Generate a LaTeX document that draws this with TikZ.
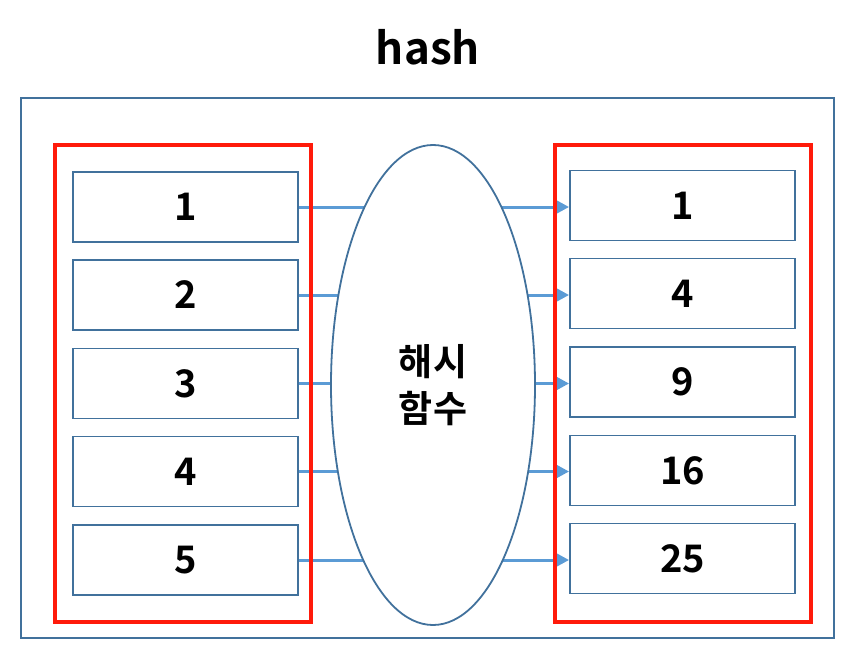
\documentclass[tikz,border=0pt]{standalone}
\usepackage{fontspec}
\setmainfont{Noto Sans CJK KR}[BoldFont={Noto Sans CJK KR Bold}]
\usetikzlibrary{shapes.geometric,arrows.meta}
\definecolor{boxblue}{HTML}{41719C}
\definecolor{arrblue}{HTML}{5B9BD5}
\definecolor{redbox}{HTML}{FF1A0A}
\tikzset{
  itembox/.style={draw=boxblue, line width=1.8pt, minimum width=225pt, minimum height=70pt, inner sep=0pt, font=\fontsize{38}{40}\selectfont\bfseries},
  groupbox/.style={draw=redbox, line width=4pt},
  maparrow/.style={draw=arrblue, line width=3pt, -{Triangle[length=12pt,width=12pt]}},
}
\begin{document}
\begin{tikzpicture}[x=1pt,y=-1pt]
\useasboundingbox (0,0) rectangle (865,653);
\node[font=\fontsize{44}{46}\selectfont\bfseries] (title) at (428,47) {hash};
\draw[boxblue, line width=1.8pt] (21,98) rectangle (834,638);
% left items
\node[itembox] (l1) at (185.5,207) {1};
\node[itembox] (l2) at (185.5,295) {2};
\node[itembox] (l3) at (185.5,383.5) {3};
\node[itembox] (l4) at (185.5,471.5) {4};
\node[itembox] (l5) at (185.5,560) {5};
% right items
\node[itembox] (r1) at (682.5,205.5) {1};
\node[itembox] (r2) at (682.5,293.5) {4};
\node[itembox] (r3) at (682.5,382) {9};
\node[itembox] (r4) at (682.5,470.5) {16};
\node[itembox] (r5) at (682.5,558.5) {25};
% arrows
\draw[maparrow] (l1.east) -- (l1.east -| r1.west);
\draw[maparrow] (l2.east) -- (l2.east -| r2.west);
\draw[maparrow] (l3.east) -- (l3.east -| r3.west);
\draw[maparrow] (l4.east) -- (l4.east -| r4.west);
\draw[maparrow] (l5.east) -- (l5.east -| r5.west);
% hash function ellipse
\node[ellipse, draw=boxblue, line width=1.8pt, fill=white, minimum width=204pt, minimum height=480pt, inner sep=0pt, align=center, font=\fontsize{37}{47}\selectfont\bfseries] (hf) at (433,385) {해시\\함수};
% red group boxes
\draw[groupbox] (55,145) rectangle (311,622);
\draw[groupbox] (555,145) rectangle (811,622);
\end{tikzpicture}
\end{document}
